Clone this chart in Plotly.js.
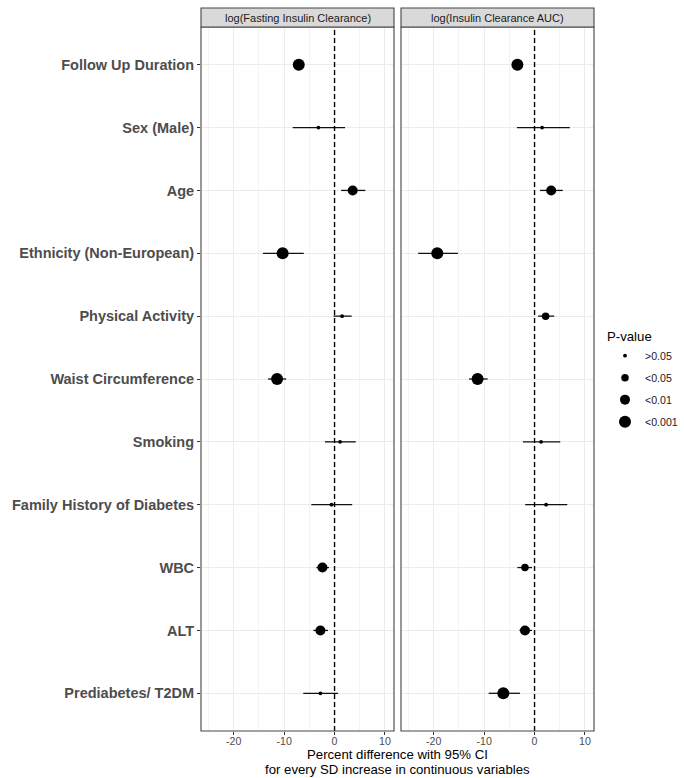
<!DOCTYPE html>
<html>
<head>
<meta charset="utf-8">
<script src="https://cdn.plot.ly/plotly-3.0.1.min.js"></script>
<style>html,body{margin:0;padding:0;background:#fff}#chart{width:684px;height:778px}</style>
</head>
<body>
<div id="chart"></div>
<script>
const categories = ["Follow Up Duration","Sex (Male)","Age","Ethnicity (Non-European)","Physical Activity","Waist Circumference","Smoking","Family History of Diabetes","WBC","ALT","Prediabetes/ T2DM"];

const panelTitles = ["log(Fasting Insulin Clearance)", "log(Insulin Clearance AUC)"];

const xTickVals = [-20, -10, 0, 10];
const xTickText = ["-20", "-10", "0", "10"];

const fastEst = [-7.1, -3.2, 3.6, -10.3, 1.5, -11.4, 1.1, -0.6, -2.4, -2.8, -2.8];
const fastLo  = [-8.0, -8.3, 1.3, -14.2, -0.2, -13.2, -1.9, -4.6, -3.6, -4.2, -6.2];
const fastHi  = [-6.2, 2.1, 6.1, -6.1, 3.4, -9.6, 4.2, 3.5, -1.1, -1.3, 0.7];
const fastP   = ["<0.001", ">0.05", "<0.01", "<0.001", ">0.05", "<0.001", ">0.05", ">0.05", "<0.01", "<0.01", ">0.05"];

const aucEst = [-3.4, 1.5, 3.3, -19.3, 2.2, -11.3, 1.3, 2.3, -1.9, -1.9, -6.2];
const aucLo  = [-4.3, -3.5, 1.1, -23.1, 0.7, -13.0, -2.3, -1.85, -3.4, -3.0, -9.1];
const aucHi  = [-2.5, 7.0, 5.6, -15.2, 3.9, -9.3, 5.1, 6.5, -0.5, -0.5, -2.9];
const aucP   = ["<0.001", ">0.05", "<0.01", "<0.001", "<0.05", "<0.001", ">0.05", ">0.05", "<0.05", "<0.01", "<0.001"];

const pLevels = [">0.05", "<0.05", "<0.01", "<0.001"];
const pSizes  = [3.8, 7.5, 10, 12];

const W = 684, H = 778;
const px = v => v / W;
const py = v => 1 - v / H;

const panels = [
  {est: fastEst, lo: fastLo, hi: fastHi, p: fastP, xa: "x", ya: "y"},
  {est: aucEst, lo: aucLo, hi: aucHi, p: aucP, xa: "x2", ya: "y2"}
];

const traces = [];
pLevels.forEach((lvl, li) => {
  let legendShown = false;
  panels.forEach(pn => {
    const idx = pn.p.map((v, i) => v === lvl ? i : -1).filter(i => i >= 0);
    if (!idx.length) return;
    const show = !legendShown;
    legendShown = true;
    traces.push({
      type: "scatter", mode: "markers",
      x: idx.map(i => pn.est[i]),
      y: idx.map(i => categories[i]),
      xaxis: pn.xa, yaxis: pn.ya,
      name: lvl, legendgroup: lvl, showlegend: show,
      marker: {color: "#000000", size: pSizes[li], line: {width: 0}},
      error_x: {
        type: "data", symmetric: false,
        array: idx.map(i => pn.hi[i] - pn.est[i]),
        arrayminus: idx.map(i => pn.est[i] - pn.lo[i]),
        color: "#111111", thickness: 1.3, width: 0
      },
      hoverinfo: "x+y"
    });
  });
});

const xr = [-26.5, 11.8];
const tickFont = {family: "Liberation Sans, Arial, sans-serif", size: 10.6, color: "#4d4d4d"};
const xBase = {
  range: xr, autorange: false,
  tickmode: "array", tickvals: xTickVals, ticktext: xTickText,
  showgrid: true, gridcolor: "#ebebeb", gridwidth: 1,
  minor: {tickmode: "linear", dtick: 5, tick0: 0, showgrid: true, gridcolor: "#f3f3f3", gridwidth: 0.6},
  zeroline: false, showline: false,
  ticks: "outside", ticklen: 3, tickcolor: "#333333", tickwidth: 1,
  ticklabelstandoff: -3,
  tickfont: tickFont, fixedrange: true
};
const yBase = {
  type: "category", categoryorder: "array", categoryarray: categories,
  range: [10.6, -0.6], autorange: false,
  showgrid: true, gridcolor: "#ebebeb", gridwidth: 1,
  zeroline: false, showline: false, fixedrange: true
};

const x1d = [px(201), px(394)];
const x2d = [px(401), px(594)];
const yd = [py(731), py(27)];
const titleFont = {family: "Liberation Sans, Arial, sans-serif", size: 13.2, color: "#000000"};

const layout = {
  width: W, height: H,
  margin: {l: 0, r: 0, t: 0, b: 0},
  paper_bgcolor: "#ffffff", plot_bgcolor: "#ffffff",
  font: {family: "Liberation Sans, Arial, sans-serif", color: "#1a1a1a"},
  xaxis: Object.assign({}, xBase, {domain: x1d, anchor: "y"}),
  xaxis2: Object.assign({}, xBase, {domain: x2d, anchor: "y2"}),
  yaxis: Object.assign({}, yBase, {
    domain: yd, anchor: "x",
    ticks: "outside", ticklen: 3, tickcolor: "#333333", tickwidth: 1,
    tickfont: {family: "Liberation Sans, Arial, sans-serif", size: 14.5, color: "#4d4d4d", weight: "bold"},
    automargin: false
  }),
  yaxis2: Object.assign({}, yBase, {domain: yd, anchor: "x2", matches: "y", showticklabels: false, ticks: ""}),
  showlegend: true,
  legend: {
    x: px(605), xanchor: "left", y: py(324), yanchor: "top",
    bgcolor: "rgba(0,0,0,0)", borderwidth: 0,
    traceorder: "grouped", tracegroupgap: 3,
    itemsizing: "trace", itemclick: false, itemdoubleclick: false,
    font: {family: "Liberation Sans, Arial, sans-serif", size: 10.6, color: "#1a1a1a"},
    title: {text: "P-value", font: titleFont}
  },
  shapes: [
    {type: "line", xref: "x", yref: "y domain", x0: 0, x1: 0, y0: 0, y1: 1,
     line: {color: "#000000", width: 1.4, dash: "5px,3px"}},
    {type: "line", xref: "x2", yref: "y2 domain", x0: 0, x1: 0, y0: 0, y1: 1,
     line: {color: "#000000", width: 1.4, dash: "5px,3px"}},
    {type: "rect", xref: "paper", yref: "paper", x0: x1d[0], x1: x1d[1], y0: yd[0], y1: yd[1],
     line: {color: "#444444", width: 1.1}, fillcolor: "rgba(0,0,0,0)", layer: "above"},
    {type: "rect", xref: "paper", yref: "paper", x0: x2d[0], x1: x2d[1], y0: yd[0], y1: yd[1],
     line: {color: "#444444", width: 1.1}, fillcolor: "rgba(0,0,0,0)", layer: "above"},
    {type: "rect", xref: "paper", yref: "paper", x0: x1d[0], x1: x1d[1], y0: py(27), y1: py(8),
     line: {color: "#444444", width: 1.1}, fillcolor: "#d9d9d9"},
    {type: "rect", xref: "paper", yref: "paper", x0: x2d[0], x1: x2d[1], y0: py(27), y1: py(8),
     line: {color: "#444444", width: 1.1}, fillcolor: "#d9d9d9"}
  ],
  annotations: [
    {xref: "paper", yref: "paper", x: (x1d[0] + x1d[1]) / 2, y: py(17.5), text: panelTitles[0],
     showarrow: false, xanchor: "center", yanchor: "middle",
     font: {family: "Liberation Sans, Arial, sans-serif", size: 11, color: "#1a1a1a"}},
    {xref: "paper", yref: "paper", x: (x2d[0] + x2d[1]) / 2, y: py(17.5), text: panelTitles[1],
     showarrow: false, xanchor: "center", yanchor: "middle",
     font: {family: "Liberation Sans, Arial, sans-serif", size: 11, color: "#1a1a1a"}},
    {xref: "paper", yref: "paper", x: (x1d[0] + x2d[1]) / 2, y: py(754),
     text: "Percent difference with 95% CI",
     showarrow: false, xanchor: "center", yanchor: "middle", font: titleFont},
    {xref: "paper", yref: "paper", x: (x1d[0] + x2d[1]) / 2, y: py(769),
     text: "for every SD increase in continuous variables",
     showarrow: false, xanchor: "center", yanchor: "middle", font: titleFont}
  ]
};

Plotly.newPlot("chart", traces, layout, {displayModeBar: false, staticPlot: false, responsive: false});
</script>
</body>
</html>
